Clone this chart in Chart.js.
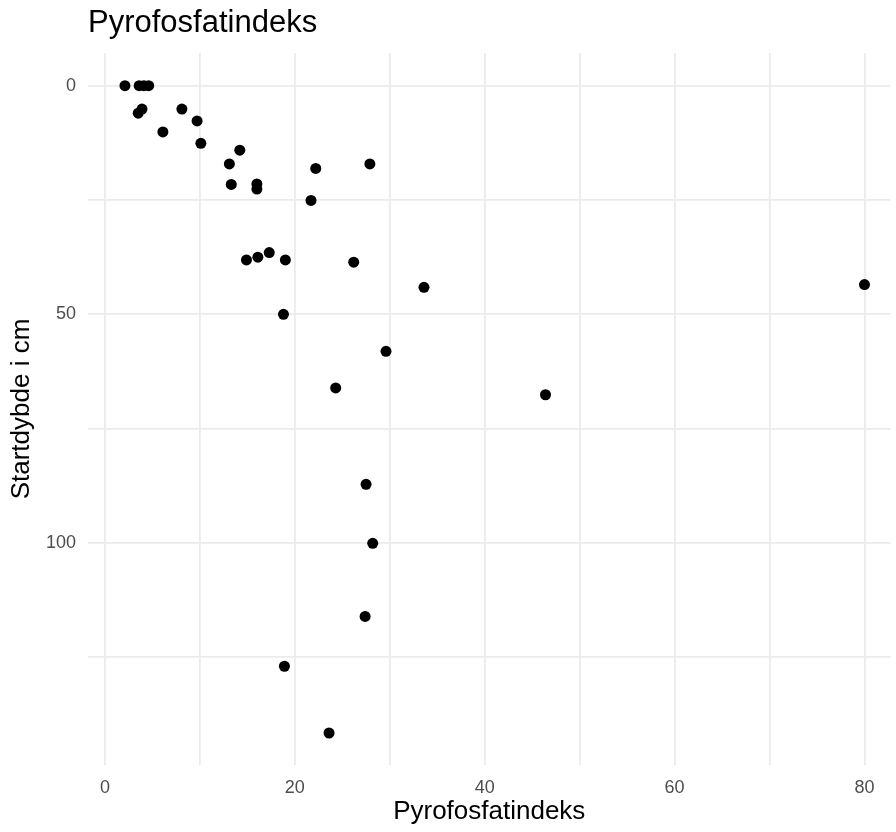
<!DOCTYPE html>
<html>
<head>
<meta charset="utf-8">
<script src="https://cdn.jsdelivr.net/npm/chart.js@4/dist/chart.umd.min.js"></script>
<style>
  html, body { margin: 0; padding: 0; background: #fff; }
  canvas { display: block; }
</style>
</head>
<body>
<canvas id="grafico" width="896" height="832"></canvas>
<script>
// data (x = index, y = start depth in cm)
const pyrofosfatindeks = [2.1, 3.6, 4.1, 4.6, 3.9, 3.5, 8.1, 9.7, 6.1, 10.1, 14.2, 13.1, 22.2, 27.9, 13.3, 16.0, 16.0, 21.7,
  14.9, 16.1, 17.3, 19.0, 26.2, 33.6, 80.0, 18.8, 29.6, 24.3, 46.4, 27.5, 28.2, 27.4, 18.9, 23.6];
const startdybde = [0, 0, 0, 0, 5.1, 6.0, 5.1, 7.7, 10.1, 12.6, 14.1, 17.1, 18.1, 17.1, 21.6, 21.5, 22.6, 25.1,
  38.1, 37.5, 36.5, 38.1, 38.6, 44.1, 43.5, 50.0, 58.1, 66.1, 67.6, 87.2, 100.1, 116.1, 127.0, 141.6];

const xTicks = [0, 10, 20, 30, 40, 50, 60, 70, 80];
const xLabels = [0, 20, 40, 60, 80];
const yTicks = [0, 25, 50, 75, 100, 125];
const yLabels = [0, 50, 100];

const punkter = pyrofosfatindeks.map((v, i) => ({ x: v, y: startdybde[i] }));

const gridFarve = '#ebebeb';
const tekstGraa = '#4d4d4d';
const fontFam = '"Liberation Sans", Arial, Helvetica, sans-serif';

new Chart(document.getElementById('grafico').getContext('2d'), {
  type: 'scatter',
  data: {
    datasets: [{
      data: punkter,
      backgroundColor: '#000',
      borderColor: '#000',
      pointRadius: 5.5,
      pointHoverRadius: 5.5,
      borderWidth: 0
    }]
  },
  options: {
    responsive: false,
    animation: false,
    layout: { padding: 0 },
    plugins: {
      legend: { display: false },
      tooltip: { enabled: false },
      title: {
        display: true,
        text: 'Pyrofosfatindeks',
        align: 'start',
        fullSize: false,
        color: '#000',
        font: { family: fontFam, size: 31, weight: 'normal' },
        padding: { top: 5, bottom: 10.8 }
      }
    },
    scales: {
      x: {
        type: 'linear',
        min: -1.79,
        max: 82.74,
        afterBuildTicks: (scale) => { scale.ticks = xTicks.map(v => ({ value: v })); },
        afterFit: (scale) => {
          scale.height = 67;
          scale.paddingLeft = 0;
          scale.paddingRight = 0;
        },
        border: { display: false },
        grid: { color: gridFarve, lineWidth: 1.8, drawTicks: false },
        ticks: {
          padding: 12,
          color: tekstGraa,
          font: { family: fontFam, size: 18 },
          autoSkip: false,
          maxRotation: 0,
          callback: (v) => xLabels.includes(v) ? String(v) : ''
        },
        title: {
          display: true,
          text: 'Pyrofosfatindeks',
          color: '#000',
          font: { family: fontFam, size: 26 },
          padding: { top: 0, bottom: 4.7 }
        }
      },
      y: {
        type: 'linear',
        reverse: true,
        min: -7.16,
        max: 148.6,
        afterBuildTicks: (scale) => { scale.ticks = yTicks.map(v => ({ value: v })); },
        afterFit: (scale) => {
          scale.width = 88;
          scale.paddingTop = 0;
          scale.paddingBottom = 0;
        },
        border: { display: false },
        grid: { color: gridFarve, lineWidth: 1.8, drawTicks: false },
        ticks: {
          padding: 12,
          color: tekstGraa,
          font: { family: fontFam, size: 18 },
          autoSkip: false,
          callback: (v) => yLabels.includes(v) ? String(v) : ''
        },
        title: {
          display: true,
          text: 'Startdybde i cm',
          color: '#000',
          font: { family: fontFam, size: 26 },
          padding: { top: 6.4, bottom: 0 }
        }
      }
    }
  }
});
</script>
</body>
</html>
